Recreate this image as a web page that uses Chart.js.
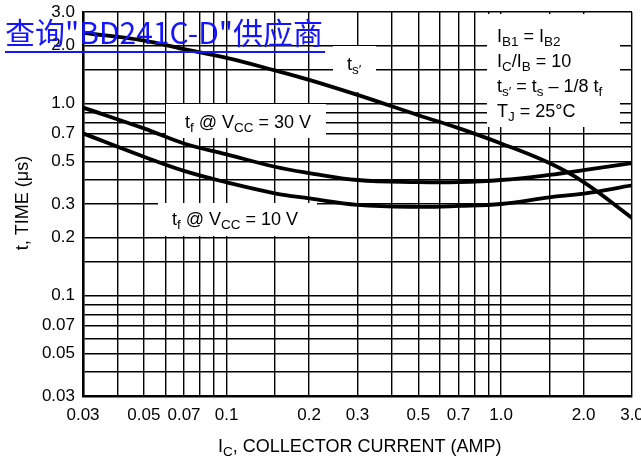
<!DOCTYPE html>
<html>
<head>
<meta charset="utf-8">
<script src="https://cdn.jsdelivr.net/npm/chart.js@4.4.1/dist/chart.umd.min.js"></script>
<style>
  html, body { margin: 0; padding: 0; background: #fff; }
  canvas { display: block; }
</style>
</head>
<body>
<canvas id="timeChart" width="641" height="462"></canvas>
<script>
// collector current (A) where the curves were read
const currents = [0.03, 0.05, 0.07, 0.1, 0.15, 0.2, 0.3, 0.5, 0.7, 1.0, 1.5, 2.0, 3.0];
// t_s' storage time (us)
const tsPrime = [2.34, 2.13, 1.92, 1.73, 1.49, 1.33, 1.11, 0.87, 0.745, 0.62, 0.49, 0.39, 0.254];
// fall time, Vcc = 30 V
const tf30 = [0.953, 0.743, 0.62, 0.544, 0.469, 0.435, 0.40, 0.39, 0.39, 0.40, 0.425, 0.45, 0.49];
// fall time, Vcc = 10 V
const tf10 = [0.70, 0.529, 0.446, 0.389, 0.341, 0.321, 0.297, 0.29, 0.293, 0.30, 0.325, 0.34, 0.375];

// grid lines and labelled ticks
const xGrid = [0.03, 0.04, 0.05, 0.06, 0.07, 0.08, 0.09, 0.1, 0.15, 0.2, 0.3, 0.4, 0.5, 0.6, 0.7, 0.8, 0.9, 1.0, 1.5, 2.0, 3.0];
const yGrid = [0.03, 0.04, 0.05, 0.06, 0.07, 0.08, 0.09, 0.1, 0.15, 0.2, 0.3, 0.4, 0.5, 0.6, 0.7, 0.8, 0.9, 1.0, 1.5, 2.0, 3.0];
const xTickAt = [0.03, 0.05, 0.07, 0.1, 0.2, 0.3, 0.5, 0.7, 1.0, 2.0, 3.0];
const xTickText = ['0.03', '0.05', '0.07', '0.1', '0.2', '0.3', '0.5', '0.7', '1.0', '2.0', '3.0'];
const yTickAt = [0.03, 0.05, 0.07, 0.1, 0.2, 0.3, 0.5, 0.7, 1.0, 2.0, 3.0];
const yTickText = ['0.03', '0.05', '0.07', '0.1', '0.2', '0.3', '0.5', '0.7', '1.0', '2.0', '3.0'];

const FONT = '"Liberation Sans", Arial, sans-serif';

function points(ys) {
    return currents.map((x, i) => ({ x: x, y: ys[i] }));
}

// draw text made of normal and subscript parts
function drawRich(ctx, parts, x, y, size) {
    let cx = x;
    ctx.textBaseline = 'alphabetic';
    ctx.textAlign = 'left';
    parts.forEach(p => {
        const s = p[1] ? size * 0.75 : size;
        ctx.font = s + 'px ' + FONT;
        ctx.fillText(p[0], cx, p[1] ? y + 4 : y);
        cx += ctx.measureText(p[0]).width;
    });
}

const curve = {
    showLine: true,
    borderColor: '#000',
    borderWidth: 3.8,
    pointRadius: 0,
    tension: 0.4,
    borderCapStyle: 'round',
    fill: false
};

const ctx = document.getElementById('timeChart').getContext('2d');
const timeChart = new Chart(ctx, {
    type: 'scatter',
    data: {
        datasets: [
            Object.assign({ label: "ts'", data: points(tsPrime) }, curve),
            Object.assign({ label: 'tf 30V', data: points(tf30) }, curve),
            Object.assign({ label: 'tf 10V', data: points(tf10) }, curve)
        ]
    },
    options: {
        responsive: false,
        animation: false,
        layout: { padding: { left: 0, right: 9, top: 12, bottom: 0 } },
        plugins: {
            legend: { display: false },
            tooltip: { enabled: false }
        },
        scales: {
            x: {
                type: 'logarithmic',
                min: 0.03,
                max: 3.0,
                afterBuildTicks(scale) {
                    scale.ticks = xGrid.map(v => ({ value: v }));
                },
                afterFit(scale) {
                    scale.height = 66;
                    scale.paddingLeft = 0;
                    scale.paddingRight = 0;
                },
                grid: { color: '#000', lineWidth: 1.4, drawTicks: false },
                border: { color: '#000', width: 2.6 },
                ticks: {
                    autoSkip: false,
                    maxRotation: 0,
                    padding: 9,
                    color: '#000',
                    font: { family: FONT, size: 17 },
                    callback(value) {
                        const i = xTickAt.indexOf(value);
                        return i < 0 ? '' : xTickText[i];
                    }
                }
            },
            y: {
                type: 'logarithmic',
                min: 0.03,
                max: 3.0,
                afterBuildTicks(scale) {
                    scale.ticks = yGrid.map(v => ({ value: v }));
                },
                afterFit(scale) {
                    scale.width = 83;
                    scale.paddingTop = 0;
                    scale.paddingBottom = 0;
                },
                grid: { color: '#000', lineWidth: 1.4, drawTicks: false },
                border: { color: '#000', width: 2.6 },
                ticks: {
                    autoSkip: false,
                    padding: 8,
                    color: '#000',
                    font: { family: FONT, size: 17 },
                    callback(value) {
                        const i = yTickAt.indexOf(value);
                        return i < 0 ? '' : yTickText[i];
                    }
                }
            }
        }
    },
    plugins: [
        {
            id: 'labelBoxes',
            beforeDatasetsDraw(chart) {
                const c = chart.ctx;
                c.save();
                c.fillStyle = '#fff';
                c.fillRect(333, 46, 43, 46);    // ts'
                c.fillRect(166, 104, 160, 34);  // tf 30 V
                c.fillRect(158, 203, 159, 33);  // tf 10 V
                c.fillRect(487, 14, 133, 113);  // conditions
                c.restore();
            },
            afterDatasetsDraw(chart) {
                const c = chart.ctx;
                c.save();
                c.fillStyle = '#000';
                drawRich(c, [['t'], ['s\u2032', 1]], 347, 70, 18);
                drawRich(c, [['t'], ['f', 1], [' @ V'], ['CC', 1], [' = 30 V']], 185, 128, 18);
                drawRich(c, [['t'], ['f', 1], [' @ V'], ['CC', 1], [' = 10 V']], 172, 225, 18);

                drawRich(c, [['I'], ['B1', 1], [' = I'], ['B2', 1]], 497, 42, 18);
                drawRich(c, [['I'], ['C', 1], ['/I'], ['B', 1], [' = 10']], 497, 67, 18);
                drawRich(c, [['t'], ['s\u2032', 1], [' = t'], ['s', 1], [' \u2013 1/8 t'], ['f', 1]], 497, 92, 18);
                drawRich(c, [['T'], ['J', 1], [' = 25\u00b0C']], 497, 117, 18);

                // axis titles
                drawRich(c, [['I'], ['C', 1], [', COLLECTOR CURRENT (AMP)']], 218, 452, 18);
                c.translate(28, 203);
                c.rotate(-Math.PI / 2);
                c.font = '18px ' + FONT;
                c.textAlign = 'center';
                c.textBaseline = 'alphabetic';
                c.fillText('t, TIME (\u03bcs)', 0, 0);
                c.restore();
            }
        },
        {
            id: 'supplierLink',
            afterDraw(chart) {
                const c = chart.ctx;
                c.save();
                c.fillStyle = '#1414ff';
                c.font = '30px "Noto Sans CJK SC", sans-serif';
                c.textAlign = 'left';
                c.textBaseline = 'alphabetic';
                const txt = '查询"BD241C-D"供应商';
                c.fillText(txt, 5, 44);
                const w = c.measureText(txt).width;
                c.fillRect(5, 51, w + 2, 2);
                c.restore();
            }
        }
    ]
});
</script>
</body>
</html>
